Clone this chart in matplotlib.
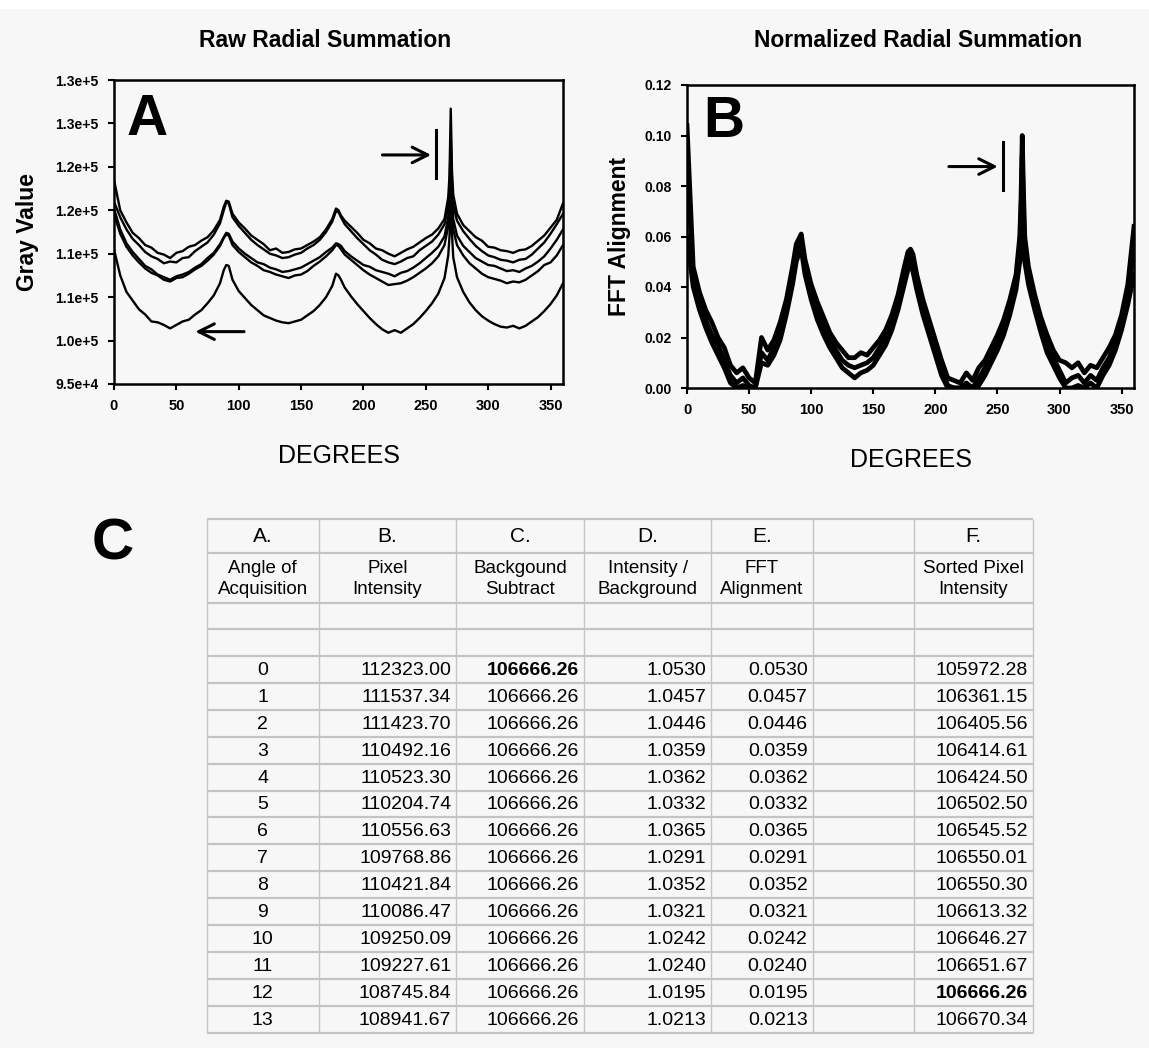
import numpy as np
import matplotlib
matplotlib.use('Agg')
import matplotlib.pyplot as plt


deg = [0, 5, 10, 15, 20, 25, 30, 35, 40, 45, 50, 55, 60, 65, 70, 75, 80, 85,
       88, 90, 92, 95, 100, 105, 110, 115, 120, 125, 130, 135, 140, 145, 150,
       155, 160, 165, 170, 175, 178, 180, 182, 185, 190, 195, 200, 205, 210,
       215, 220, 225, 230, 235, 240, 245, 250, 255, 260, 265, 268, 269, 270,
       271, 272, 275, 280, 285, 290, 295, 300, 305, 310, 315, 320, 325, 330,
       335, 340, 345, 350, 355, 360]

# Panel A: raw radial summation, gray value in thousands.
raw_1 = [118.5, 115.0, 113.6, 112.4, 111.8, 111.0, 110.7, 110.1, 109.9, 109.5,
         110.1, 110.3, 110.8, 111.0, 111.5, 111.9, 112.7, 113.9, 115.4, 116.1,
         116.0, 114.6, 113.6, 112.9, 112.1, 111.6, 111.1, 110.4, 110.6, 110.1,
         110.2, 110.5, 110.6, 111.0, 111.4, 111.9, 112.8, 114.0, 115.2, 115.0,
         114.4, 113.8, 113.1, 112.4, 111.6, 111.2, 110.6, 110.4, 110.0, 109.7,
         110.1, 110.5, 110.8, 111.3, 111.8, 112.2, 112.9, 114.0, 116.5, 119.0,
         126.7, 119.5, 116.8, 114.6, 113.3, 112.6, 111.9, 111.5, 110.8, 110.7,
         110.4, 110.3, 110.1, 110.4, 110.5, 110.9, 111.5, 112.1, 113.0, 113.9,
         115.8]
raw_2 = [116.0, 114.2, 112.8, 111.7, 111.0, 110.2, 109.7, 109.4, 108.9, 109.1,
         109.0, 109.5, 109.6, 110.3, 110.8, 111.3, 112.2, 113.5, 115.0, 115.9,
         115.8, 114.2, 113.2, 112.4, 111.6, 111.0, 110.5, 110.0, 109.8, 109.5,
         109.6, 109.9, 110.1, 110.6, 111.0, 111.6, 112.5, 113.7, 114.9, 114.8,
         114.2, 113.4, 112.6, 111.8, 111.1, 110.4, 109.9, 109.3, 109.0, 108.8,
         109.1, 109.5, 109.7, 110.4, 110.9, 111.4, 112.2, 113.4, 115.5, 117.5,
         123.5, 117.8, 115.6, 113.8, 112.6, 111.7, 110.9, 110.3, 109.8, 109.6,
         109.3, 109.2, 109.0, 109.3, 109.4, 109.9, 110.6, 111.3, 112.3, 113.4,
         114.6]
raw_3 = [115.2, 112.8, 111.2, 110.2, 109.4, 108.6, 108.2, 107.6, 107.3, 107.0,
         107.4, 107.6, 107.9, 108.4, 108.8, 109.5, 110.1, 111.1, 111.9, 112.4,
         112.3, 111.4, 110.6, 110.0, 109.5, 109.0, 108.8, 108.4, 108.2, 107.9,
         108.0, 108.2, 108.4, 108.8, 109.2, 109.6, 110.2, 110.7, 111.2, 111.1,
         110.9, 110.3, 109.7, 109.2, 108.7, 108.5, 108.1, 107.9, 107.7, 107.4,
         107.8, 108.0, 108.4, 108.9, 109.5, 110.1, 110.8, 112.0, 114.2, 116.0,
         121.5, 116.3, 114.0, 112.1, 110.9, 110.2, 109.5, 109.1, 108.7, 108.6,
         108.3, 108.0, 108.1, 107.9, 108.3, 108.6, 109.1, 109.7, 110.6, 111.6,
         112.8]
raw_4 = [114.6, 112.3, 110.8, 109.8, 109.0, 108.3, 107.8, 107.5, 107.0, 106.8,
         107.2, 107.3, 107.7, 108.2, 108.6, 109.2, 109.9, 110.9, 111.8, 112.2,
         112.1, 111.0, 110.2, 109.6, 109.0, 108.6, 108.1, 107.9, 107.6, 107.4,
         107.2, 107.5, 107.6, 108.0, 108.6, 109.1, 109.7, 110.4, 111.0, 110.9,
         110.5, 109.9, 109.3, 108.7, 108.1, 107.6, 107.2, 106.8, 106.4, 106.5,
         106.6, 106.9, 107.3, 107.8, 108.3, 108.9, 109.7, 111.0, 113.2, 115.0,
         119.5, 115.2, 112.8, 111.0, 109.8, 108.9, 108.3, 107.7, 107.3, 107.1,
         106.9, 106.6, 106.8, 106.7, 107.0, 107.5, 108.0, 108.7, 109.0, 109.8,
         111.0]
raw_5 = [110.5, 107.5, 105.6, 104.6, 103.6, 103.0, 102.2, 102.1, 101.8, 101.4,
         101.8, 102.2, 102.4, 103.0, 103.5, 104.3, 105.2, 106.6, 108.1, 108.7,
         108.6, 107.0, 105.7, 104.9, 104.1, 103.5, 102.9, 102.6, 102.3, 102.1,
         102.0, 102.2, 102.4, 102.9, 103.4, 104.1, 105.0, 106.3, 107.7, 107.5,
         107.0, 106.1, 105.1, 104.2, 103.4, 102.6, 101.9, 101.3, 100.9, 101.2,
         100.9, 101.4, 101.9, 102.6, 103.4, 104.3, 105.4, 107.2, 109.8, 112.0,
         116.5, 112.3, 109.6, 107.3, 105.6, 104.4, 103.5, 102.8, 102.3, 101.9,
         101.6, 101.5, 101.7, 101.4, 101.7, 102.2, 102.7, 103.4, 104.2, 105.2,
         106.6]

# Panel B: normalized radial summation (FFT alignment).
norm_1 = [0.104, 0.048, 0.038, 0.031, 0.026, 0.020, 0.016, 0.009, 0.006, 0.008,
          0.004, 0.002, 0.020, 0.015, 0.019, 0.026, 0.035, 0.048, 0.057, 0.059,
          0.061, 0.051, 0.041, 0.034, 0.028, 0.022, 0.018, 0.015, 0.012, 0.012,
          0.014, 0.013, 0.016, 0.019, 0.023, 0.029, 0.037, 0.048, 0.054, 0.055,
          0.053, 0.045, 0.035, 0.027, 0.019, 0.011, 0.004, 0.003, 0.002, 0.006,
          0.003, 0.008, 0.011, 0.016, 0.021, 0.027, 0.035, 0.045, 0.060, 0.075,
          0.100, 0.078, 0.060, 0.048, 0.037, 0.028, 0.021, 0.015, 0.011, 0.010,
          0.008, 0.010, 0.006, 0.009, 0.008, 0.012, 0.016, 0.021, 0.029, 0.041,
          0.064]
norm_2 = [0.090, 0.044, 0.035, 0.027, 0.021, 0.017, 0.011, 0.005, 0.002, 0.004,
          0.001, 0.000, 0.014, 0.011, 0.016, 0.022, 0.032, 0.045, 0.054, 0.057,
          0.058, 0.048, 0.038, 0.031, 0.024, 0.019, 0.015, 0.011, 0.009, 0.008,
          0.009, 0.010, 0.012, 0.016, 0.020, 0.026, 0.034, 0.045, 0.051, 0.053,
          0.049, 0.042, 0.032, 0.024, 0.016, 0.008, 0.001, 0.000, 0.000, 0.002,
          0.000, 0.004, 0.008, 0.013, 0.018, 0.024, 0.032, 0.042, 0.056, 0.068,
          0.092, 0.070, 0.055, 0.045, 0.034, 0.025, 0.017, 0.012, 0.007, 0.002,
          0.004, 0.005, 0.002, 0.005, 0.003, 0.008, 0.012, 0.018, 0.026, 0.037,
          0.055]
norm_3 = [0.060, 0.040, 0.031, 0.024, 0.018, 0.013, 0.008, 0.002, 0.000, 0.001,
          0.000, 0.000, 0.010, 0.009, 0.013, 0.019, 0.029, 0.041, 0.050, 0.053,
          0.055, 0.045, 0.035, 0.027, 0.021, 0.016, 0.012, 0.008, 0.006, 0.004,
          0.006, 0.007, 0.009, 0.013, 0.017, 0.023, 0.031, 0.041, 0.047, 0.049,
          0.046, 0.039, 0.029, 0.021, 0.013, 0.005, 0.000, 0.000, 0.000, 0.000,
          0.000, 0.001, 0.005, 0.010, 0.015, 0.021, 0.029, 0.039, 0.050, 0.058,
          0.080, 0.060, 0.050, 0.041, 0.031, 0.022, 0.014, 0.009, 0.004, 0.000,
          0.000, 0.001, 0.000, 0.002, 0.000, 0.005, 0.009, 0.015, 0.023, 0.033,
          0.045]

raw_ticks = [95000, 100000, 105000, 110000, 115000, 120000, 125000, 130000]
raw_tick_labels = ['9.5e+4', '1.0e+5', '1.1e+5', '1.1e+5',
                   '1.2e+5', '1.2e+5', '1.3e+5', '1.3e+5']
norm_ticks = [0.00, 0.02, 0.04, 0.06, 0.08, 0.10, 0.12]
deg_ticks = [0, 50, 100, 150, 200, 250, 300, 350]

# Panel C: table.
col_letters = ['A.', 'B.', 'C.', 'D.', 'E.', '', 'F.']
col_names = ['Angle of\nAcquisition', 'Pixel\nIntensity', 'Backgound\nSubtract',
             'Intensity /\nBackground', 'FFT\nAlignment', '',
             'Sorted Pixel\nIntensity']
angle = [0, 1, 2, 3, 4, 5, 6, 7, 8, 9, 10, 11, 12, 13]
pixel_intensity = [112323.00, 111537.34, 111423.70, 110492.16, 110523.30,
                   110204.74, 110556.63, 109768.86, 110421.84, 110086.47,
                   109250.09, 109227.61, 108745.84, 108941.67]
background = [106666.26] * 14
intensity_ratio = [1.0530, 1.0457, 1.0446, 1.0359, 1.0362, 1.0332, 1.0365,
                   1.0291, 1.0352, 1.0321, 1.0242, 1.0240, 1.0195, 1.0213]
fft_alignment = [0.0530, 0.0457, 0.0446, 0.0359, 0.0362, 0.0332, 0.0365,
                 0.0291, 0.0352, 0.0321, 0.0242, 0.0240, 0.0195, 0.0213]
sorted_intensity = [105972.28, 106361.15, 106405.56, 106414.61, 106424.50,
                    106502.50, 106545.52, 106550.01, 106550.30, 106613.32,
                    106646.27, 106651.67, 106666.26, 106670.34]


plt.rcParams['font.family'] = ['Liberation Sans', 'DejaVu Sans']
W, H = 1149, 1048
bg = '#f7f7f7'
fig = plt.figure(figsize=(W / 100, H / 100), dpi=100, facecolor=bg)
# thin white strip on top like the scanned page
fig.patches.append(plt.Rectangle((0, 1 - 9 / H), 1, 9 / H, transform=fig.transFigure,
                                 facecolor='white', edgecolor='none'))


def px_axes(l, t, r, b):
    return fig.add_axes([l / W, 1 - b / H, (r - l) / W, (b - t) / H])


def style(ax):
    ax.set_facecolor(bg)
    for s in ax.spines.values():
        s.set_linewidth(1.8)
    ax.tick_params(direction='out', length=4, width=1.5, pad=7)
    ax.set_xlim(0, 360)
    ax.set_xticks(deg_ticks)
    ax.set_xticklabels([str(t) for t in deg_ticks], fontweight='bold', fontsize=10.5)
    ax.set_xlabel('DEGREES', fontsize=18, labelpad=22)


arrow = dict(arrowstyle='->', lw=2.2, color='black', mutation_scale=28)

# Panel A
ax1 = px_axes(114, 80, 563, 384)
for curve in (raw_1, raw_2, raw_3, raw_4, raw_5):
    ax1.plot(deg, np.array(curve) * 1000, color='black', lw=1.7)
ax1.set_ylim(95000, 130000)
ax1.set_yticks(raw_ticks)
ax1.set_yticklabels(raw_tick_labels, fontweight='bold', fontsize=10)
style(ax1)
ax1.set_ylabel('Gray Value', fontsize=16.5, fontweight='bold', labelpad=12)
fig.text(325 / W, 1 - 47 / H, 'Raw Radial Summation', fontsize=16.5,
         fontweight='bold', ha='center', va='baseline')
ax1.text(0.027, 0.82, 'A', transform=ax1.transAxes, fontsize=41,
         fontweight='bold', va='baseline')
ax1.annotate('', xy=(256.5, 121370), xytext=(213, 121370), arrowprops=arrow)
ax1.plot([258.4, 258.4], [118700, 124250], color='black', lw=2.2)
ax1.annotate('', xy=(63, 101030), xytext=(106.5, 101030), arrowprops=arrow)

# Panel B
ax2 = px_axes(687, 85, 1134, 388)
for curve in (norm_1, norm_2, norm_3):
    ax2.plot(deg, curve, color='black', lw=3.4)
ax2.set_ylim(0, 0.12)
ax2.set_yticks(norm_ticks)
ax2.set_yticklabels(['%.2f' % t for t in norm_ticks], fontweight='bold', fontsize=10)
style(ax2)
ax2.set_ylabel('FFT Alignment', fontsize=16.5, fontweight='bold', labelpad=10)
fig.text(918 / W, 1 - 47 / H, 'Normalized Radial Summation', fontsize=16.5,
         fontweight='bold', ha='center', va='baseline')
ax2.text(0.036, 0.83, 'B', transform=ax2.transAxes, fontsize=41,
         fontweight='bold', va='baseline')
ax2.annotate('', xy=(252.5, 0.0877), xytext=(208.7, 0.0877), arrowprops=arrow)
ax2.plot([254.2, 254.2], [0.0785, 0.0976], color='black', lw=2.2)

# Panel C: table
fig.text(92 / W, 1 - 545 / H, 'C', fontsize=42, fontweight='bold', va='center')

col_w = [112.0, 137.7, 127.6, 127.6, 101.1, 101.5, 118.8]
row_h = [34.0, 50.0, 26.5, 26.5] + [26.9] * len(angle)
xe = np.concatenate([[0], np.cumsum(col_w)])
ye = np.concatenate([[0], np.cumsum(row_h)])
axt = px_axes(206.6, 519, 206.6 + xe[-1], 519 + ye[-1])
axt.set_xlim(0, xe[-1])
axt.set_ylim(ye[-1], 0)
axt.axis('off')
grid = '#c4c4c4'
axt.hlines(ye, 0, xe[-1], color=grid, lw=1.6, clip_on=False)
axt.vlines(xe, 0, ye[-1], color=grid, lw=1.0, clip_on=False)

for j in range(len(col_w)):
    xc = (xe[j] + xe[j + 1]) / 2
    axt.text(xc, (ye[0] + ye[1]) / 2 + 1, col_letters[j], ha='center', va='center',
             fontsize=15)
    axt.text(xc, (ye[1] + ye[2]) / 2 + 1, col_names[j], ha='center', va='center',
             fontsize=13.5, linespacing=1.25)

columns = [
    [str(a) for a in angle],
    ['%.2f' % v for v in pixel_intensity],
    ['%.2f' % v for v in background],
    ['%.4f' % v for v in intensity_ratio],
    ['%.4f' % v for v in fft_alignment],
    [''] * len(angle),
    ['%.2f' % v for v in sorted_intensity],
]
bold_cells = {(0, 2), (12, 6)}
for i in range(len(angle)):
    yc = (ye[i + 4] + ye[i + 5]) / 2 + 1
    for j, col in enumerate(columns):
        w = 'bold' if (i, j) in bold_cells else 'normal'
        if j == 0:
            axt.text((xe[0] + xe[1]) / 2, yc, col[i], ha='center', va='center',
                     fontsize=14, fontweight=w)
        else:
            axt.text(xe[j + 1] - 5, yc, col[i], ha='right', va='center',
                     fontsize=14, fontweight=w)

fig.savefig('out.png', dpi=100, facecolor=bg)
